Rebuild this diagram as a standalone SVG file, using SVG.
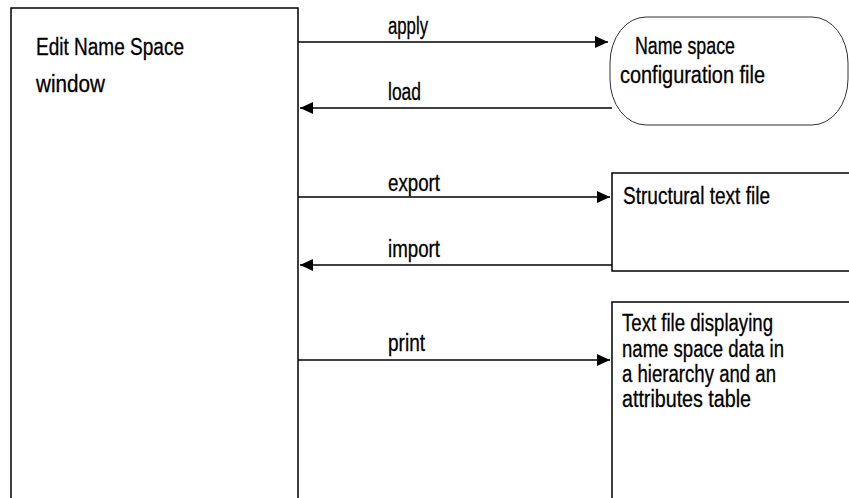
<svg xmlns="http://www.w3.org/2000/svg" width="849" height="498" viewBox="0 0 849 498">
  <style>
    text { font-family: "Liberation Sans", Arial, sans-serif; font-size: 23px; fill: #000; stroke: #000; stroke-width: 0.3; }
    .box { fill: #fff; stroke: #000; stroke-width: 1.5; }
    .round { fill: #fff; stroke: #333; stroke-width: 1; }
    .conn { stroke: #000; stroke-width: 1.3; fill: none; }
  </style>
  <defs>
    <marker id="arrow" viewBox="0 0 13 12" refX="13" refY="6" markerWidth="13" markerHeight="12" markerUnits="userSpaceOnUse" orient="auto">
      <path d="M0,0 L13,6 L0,12 Z" fill="#000"/>
    </marker>
  </defs>

  <rect width="849" height="498" fill="#fff"/>

  <!-- main window -->
  <g id="edit-window">
    <rect class="box" x="11" y="8" width="287" height="500"/>
    <text x="36" y="55" textLength="148" lengthAdjust="spacingAndGlyphs">Edit Name Space</text>
    <text x="36" y="92" textLength="69" lengthAdjust="spacingAndGlyphs">window</text>
  </g>

  <!-- configuration file (rounded) -->
  <g id="config-file">
    <rect class="round" x="610" y="17" width="238" height="108" rx="36" ry="46"/>
    <text x="635" y="54" textLength="100" lengthAdjust="spacingAndGlyphs">Name space</text>
    <text x="620" y="83" textLength="145" lengthAdjust="spacingAndGlyphs">configuration file</text>
  </g>

  <!-- structural text file -->
  <g id="structural-file">
    <rect class="box" x="612" y="173" width="250" height="98"/>
    <text x="623" y="204" textLength="147" lengthAdjust="spacingAndGlyphs">Structural text file</text>
  </g>

  <!-- printed text file -->
  <g id="print-file">
    <rect class="box" x="612" y="302" width="250" height="210"/>
    <text x="622" y="331" textLength="151" lengthAdjust="spacingAndGlyphs">Text file displaying</text>
    <text x="622" y="357" textLength="162" lengthAdjust="spacingAndGlyphs">name space data in</text>
    <text x="622" y="382" textLength="154" lengthAdjust="spacingAndGlyphs">a hierarchy and an</text>
    <text x="622" y="407" textLength="129" lengthAdjust="spacingAndGlyphs">attributes table</text>
  </g>

  <!-- connectors -->
  <g id="connectors">
    <line class="conn" x1="298" y1="42" x2="608" y2="42" marker-end="url(#arrow)"/>
    <line class="conn" x1="612" y1="108" x2="300" y2="108" marker-end="url(#arrow)"/>
    <line class="conn" x1="298" y1="197" x2="610" y2="197" marker-end="url(#arrow)"/>
    <line class="conn" x1="612" y1="265" x2="300" y2="265" marker-end="url(#arrow)"/>
    <line class="conn" x1="298" y1="360" x2="610" y2="360" marker-end="url(#arrow)"/>
    <text x="388" y="34" textLength="40" lengthAdjust="spacingAndGlyphs">apply</text>
    <text x="388" y="100" textLength="33" lengthAdjust="spacingAndGlyphs">load</text>
    <text x="388" y="191" textLength="52" lengthAdjust="spacingAndGlyphs">export</text>
    <text x="388" y="257" textLength="52" lengthAdjust="spacingAndGlyphs">import</text>
    <text x="388" y="351" textLength="37" lengthAdjust="spacingAndGlyphs">print</text>
  </g>
</svg>
